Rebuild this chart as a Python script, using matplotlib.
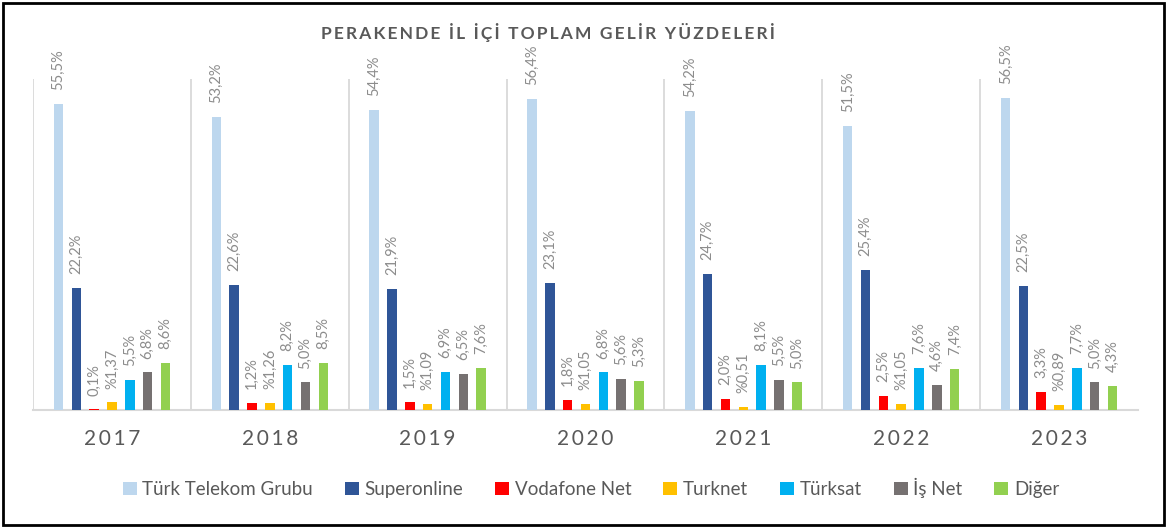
import matplotlib.pyplot as plt
from matplotlib.patches import Rectangle, Patch

plt.rcParams['font.family'] = ['Lato', 'DejaVu Sans']

years = ['2017', '2018', '2019', '2020', '2021', '2022', '2023']
series = ['Türk Telekom Grubu', 'Superonline', 'Vodafone Net', 'Turknet',
          'Türksat', 'İş Net', 'Diğer']
turk_telekom = [55.5, 53.2, 54.4, 56.4, 54.2, 51.5, 56.5]
superonline = [22.2, 22.6, 21.9, 23.1, 24.7, 25.4, 22.5]
vodafone = [0.1, 1.2, 1.5, 1.8, 2.0, 2.5, 3.3]
turknet = [1.37, 1.26, 1.09, 1.05, 0.51, 1.05, 0.89]
turksat = [5.5, 8.2, 6.9, 6.8, 8.1, 7.6, 7.7]
isnet = [6.8, 5.0, 6.5, 5.6, 5.5, 4.6, 5.0]
diger = [8.6, 8.5, 7.6, 5.3, 5.0, 7.4, 4.3]

values = [turk_telekom, superonline, vodafone, turknet, turksat, isnet, diger]
colors = ['#BDD7EE', '#2F5597', '#FF0000', '#FFC000', '#00B0F0', '#767171', '#92D050']

W, H = 1167, 528
fig = plt.figure(figsize=(W / 100, H / 100), dpi=100)
ax = fig.add_axes([33 / W, 118 / H, (1138 - 33) / W, (449 - 118) / H])

slot = 0.113
width = 0.06
for j, (vals, col) in enumerate(zip(values, colors)):
    xs = [i + (j - 3) * slot for i in range(len(years))]
    ax.bar(xs, vals, width=width, color=col, zorder=3)
    for x, v in zip(xs, vals):
        if j == 3:
            lab = '%' + f'{v:.2f}'.replace('.', ',')
        else:
            lab = f'{v:.1f}%'.replace('.', ',')
        ax.annotate(lab, (x, v), xytext=(0, 10), textcoords='offset points',
                    rotation=90, ha='center', va='bottom', fontsize=10.5,
                    color='#8C8C8C')

ax.set_xlim(-0.5, 6.5)
ax.set_ylim(0, 60)
for k in range(len(years)):
    ax.axvline(k - 0.5, color='#D9D9D9', lw=1.3, zorder=1)
for s in ['top', 'right', 'left']:
    ax.spines[s].set_visible(False)
ax.spines['bottom'].set_color('#D9D9D9')
ax.spines['bottom'].set_linewidth(1.5)
ax.set_yticks([])
ax.set_xticks(range(len(years)))
ax.set_xticklabels(['\u2009'.join(y) for y in years], fontsize=15, color='#595959')
ax.tick_params(axis='x', length=0, pad=14)

title = 'PERAKENDE İL İÇİ TOPLAM GELİR YÜZDELERİ'
fig.text(548 / W, 1 - 32 / H, '\u2009'.join(title).replace('\u2009 \u2009', '  '),
         ha='center', va='center', fontsize=12.5, fontweight='bold', color='#595959')

handles = [Patch(facecolor=c, edgecolor='none') for c in colors]
fig.legend(handles, series, loc='center', bbox_to_anchor=(591 / W, 40 / H), ncol=7,
           frameon=False, fontsize=13.5, handlelength=0.75, handleheight=0.75,
           handletextpad=0.3, columnspacing=1.7, labelcolor='#595959')

fig.patches.append(Rectangle((3 / W, 3 / H), (W - 6) / W, (H - 6) / H,
                             transform=fig.transFigure, fill=False,
                             edgecolor='black', lw=2))

fig.savefig('out.png', dpi=100)
